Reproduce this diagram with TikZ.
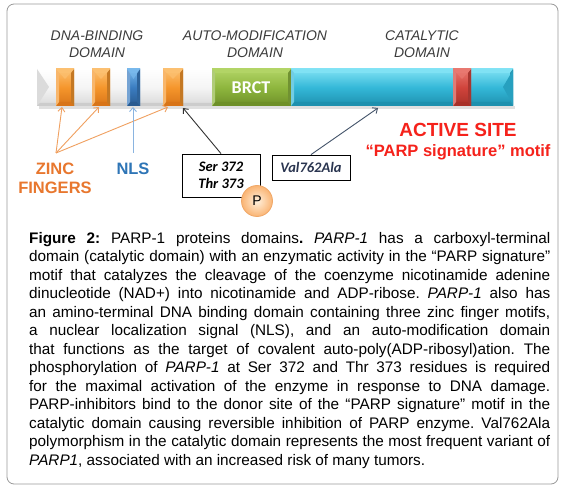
\documentclass[tikz,border=0pt]{standalone}
\usepackage{fontspec}
\setmainfont{Liberation Sans}
\newfontfamily\calib{Carlito}
\usetikzlibrary{arrows.meta}
\definecolor{orL}{HTML}{FCC070}
\definecolor{orB}{HTML}{F5962C}
\definecolor{orD}{HTML}{D87418}
\definecolor{blL}{HTML}{78B8EC}
\definecolor{blB}{HTML}{3A7CC0}
\definecolor{blD}{HTML}{285A90}
\definecolor{grL}{HTML}{B2D466}
\definecolor{grB}{HTML}{8EB63E}
\definecolor{grD}{HTML}{6E9028}
\definecolor{cyL}{HTML}{80E2F4}
\definecolor{cyB}{HTML}{34B8D8}
\definecolor{cyD}{HTML}{1E90AE}
\definecolor{rdL}{HTML}{E87870}
\definecolor{rdB}{HTML}{D0443C}
\definecolor{rdD}{HTML}{A83028}
\definecolor{zincC}{HTML}{E8772E}
\definecolor{nlsC}{HTML}{2E75B6}
\definecolor{actC}{HTML}{F5221B}
\definecolor{domC}{HTML}{3C3C3C}
\definecolor{zarrC}{HTML}{F0A060}
\definecolor{narrC}{HTML}{8AB4E0}
\definecolor{varrC}{HTML}{44546A}
\definecolor{valC}{HTML}{2A3550}
\newcommand{\bevseg}[5]{%
  \fill[top color=#3,bottom color=#5,middle color=#4] (#1,69) rectangle (#2,106);
  \fill[#3] (#1,69) -- (#2,69) -- ({#2-3},73) -- ({#1+3},73) -- cycle;
  \fill[#5] (#1,106) -- (#2,106) -- ({#2-3},102) -- ({#1+3},102) -- cycle;
  \fill[#4!80!black] (#2,69) -- ({#2-3},73) -- ({#2-3},102) -- (#2,106) -- cycle;
  \fill[#4!70!white] (#1,69) -- ({#1+3},73) -- ({#1+3},102) -- (#1,106) -- cycle;
}
\newcommand{\chev}[3]{%
  \fill[#3,opacity=0.7] (#1,69) -- (#2,69) -- ({(#1+#2)/2},79) -- cycle;
}
\tikzset{
  domlab/.style={font=\fontsize{14}{17}\selectfont\itshape, text=domC, align=center, inner sep=0pt},
  biglab/.style={font=\fontsize{16.5}{19}\selectfont\bfseries, align=center, inner sep=0pt},
  arr/.style={-{Straight Barb[length=4pt,width=7pt]}, line width=0.9pt},
  resbox/.style={draw=black, line width=0.8pt, fill=white, inner sep=0pt}
}
\begin{document}
\begin{tikzpicture}[x=1pt,y=-1pt]
\useasboundingbox (0,0) rectangle (565,489);
\fill[white] (0,0) rectangle (565,489);
\draw[rounded corners=7pt, draw=gray!80, line width=0.8pt] (7,4) rectangle (558,484);

% domain titles
\node[domlab, anchor=base] (dnab) at (97,58) {DNA-BINDING\\DOMAIN};
\node[domlab, anchor=base] (autom) at (255,58) {AUTO-MODIFICATION\\DOMAIN};
\node[domlab, anchor=base] (catd) at (422,58) {CATALYTIC\\DOMAIN};

% bar
\fill[black,opacity=0.12] (39,106) rectangle (515,109);
\fill[top color=white, bottom color=gray!30, middle color=gray!8] (37,69) rectangle (513,106);
\fill[gray!28] (37,69) -- (49,87) -- (37,106) -- cycle;
\fill[gray!40] (37,106) -- (513,106) -- (510,103) -- (40,103) -- cycle;
\bevseg{56}{74}{orL}{orB}{orD}\chev{56}{74}{orL}
\bevseg{92}{110}{orL}{orB}{orD}\chev{92}{110}{orL}
\bevseg{127}{140}{blL}{blB}{blD}\chev{127}{140}{blL}
\bevseg{163}{183}{orL}{orB}{orD}\chev{163}{183}{orL}
\bevseg{212}{291}{grL}{grB}{grD}
\bevseg{291}{513}{cyL}{cyB}{cyD}
\fill[cyD!60!cyB] (513,70) -- (503,87) -- (513,105) -- cycle;
\bevseg{453}{471}{rdL}{rdB}{rdD}\chev{453}{471}{rdL}
\node[font=\calib\fontsize{18}{20}\selectfont\bfseries, text=white, inner sep=0pt, anchor=base] (brct) at (251,94) {BRCT};

% arrow targets
\coordinate (t1) at (62,107);
\coordinate (t2) at (99,107);
\coordinate (t3) at (168,107);
\coordinate (tn) at (133,107);
\coordinate (ts) at (183,108);
\coordinate (tv) at (378,108);
\coordinate (zsrc) at (56,153);
\coordinate (nsrc) at (133,153);

% labels
\node[biglab, text=zincC, anchor=base] (zinc) at (55,194) {ZINC\\FINGERS};
\node[biglab, text=nlsC, anchor=base] (nls) at (133,175) {NLS};
\node[font=\fontsize{19}{21}\selectfont\bfseries, text=actC, inner sep=0pt, anchor=base] (act) at (458,137) {ACTIVE SITE};
\node[font=\fontsize{16.5}{19}\selectfont\bfseries, text=actC, inner sep=0pt, anchor=base] (sig) at (458,157) {“PARP signature” motif};

% residue boxes
\node[resbox, minimum width=78pt, minimum height=43pt, font=\calib\fontsize{14.5}{17}\selectfont\bfseries\itshape, align=center] (ser) at (221,175.5) {Ser 372\\Thr 373};
\node[resbox, minimum width=78pt, minimum height=25pt, font=\calib\fontsize{14.5}{17}\selectfont\bfseries\itshape, text=valC] (val) at (311,167.5) {Val762Ala};
\node[circle, minimum size=31pt, inner sep=0pt, draw={rgb,255:red,240;green,168;blue,104}, line width=0.8pt, inner color={rgb,255:red,255;green,240;blue,220}, outer color={rgb,255:red,250;green,180;blue,115}, font=\fontsize{14}{16}\selectfont] (pcirc) at (257,201) {P};

% arrows
\draw[arr, zarrC] (zsrc) -- (t1);
\draw[arr, zarrC] (zsrc) -- (t2);
\draw[arr, zarrC] (zsrc) -- (t3);
\draw[arr, narrC] (nsrc) -- (tn);
\draw[arr, black!80] (ser.north) -- (ts);
\draw[arr, varrC] (val.north) -- (tv);

% caption
\node[anchor=north west, text width=521pt, align=justify, inner sep=0pt,
  font=\fontsize{15.3}{18.5}\selectfont] (cap) at (29,232) {\frenchspacing\hyphenpenalty=10000\tolerance=10000\emergencystretch=20pt
\textbf{Figure 2:} PARP-1 proteins domains\textbf{.} \textit{PARP-1} has a carboxyl-terminal\linebreak
domain (catalytic domain) with an enzymatic activity in the “PARP signature”\linebreak
motif that catalyzes the cleavage of the coenzyme nicotinamide adenine\linebreak
dinucleotide (NAD+) into nicotinamide and ADP-ribose. \textit{PARP-1} also has\linebreak
an amino-terminal DNA binding domain containing three zinc finger motifs,\linebreak
a nuclear localization signal (NLS), and an auto-modification domain\linebreak
that functions as the target of covalent auto-poly(ADP-ribosyl)ation. The\linebreak
phosphorylation of \textit{PARP-1} at Ser 372 and Thr 373 residues is required\linebreak
for the maximal activation of the enzyme in response to DNA damage.\linebreak
PARP-inhibitors bind to the donor site of the “PARP signature” motif in the\linebreak
catalytic domain causing reversible inhibition of PARP enzyme. Val762Ala\linebreak
polymorphism in the catalytic domain represents the most frequent variant of\linebreak
\textit{PARP1}, associated with an increased risk of many tumors.};
\end{tikzpicture}
\end{document}
